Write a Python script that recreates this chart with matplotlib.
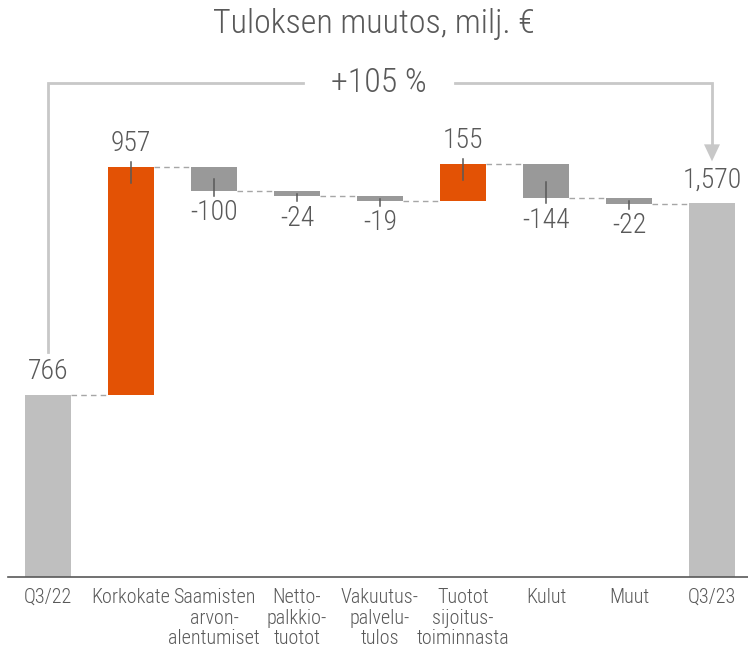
import matplotlib.pyplot as plt
import numpy as np
from matplotlib.patches import Polygon

plt.rcParams["font.family"] = ["Roboto Condensed", "Liberation Sans", "DejaVu Sans"]
plt.rcParams["font.weight"] = "light"

# data
categories = ["Q3/22", "Korkokate", "Saamisten\narvon-\nalentumiset", "Netto-\npalkkio-\ntuotot",
              "Vakuutus-\npalvelu-\ntulos", "Tuotot\nsijoitus-\ntoiminnasta", "Kulut", "Muut", "Q3/23"]
start_value = 766
deltas = [957, -100, -24, -19, 155, -144, -22]
end_value = 1570
delta_labels = ["957", "-100", "-24", "-19", "155", "-144", "-22"]
total_labels = ["766", "1,570"]
change_label = "+105 %"
title = "Tuloksen muutos, milj. €"

TEXT = "#595959"
TOTAL_C = "#bfbfbf"
POS_C = "#e35205"
NEG_C = "#999999"
BRACKET_C = "#c8c8c8"

W, H = 748, 651
fig = plt.figure(figsize=(W / 100, H / 100), dpi=100)
base_px = 577  # baseline from top
px_per_unit = 0.238
ax = fig.add_axes([8 / W, (H - base_px) / H, (W - 8) / W, base_px / H])
PX = 1 / px_per_unit  # data units per pixel
ax.set_ylim(0, base_px * PX)
ax.set_xlim(-40 / 83, -40 / 83 + (W - 8) / 83)
bw = 0.55

# running totals
levels = np.concatenate([[start_value], start_value + np.cumsum(deltas)])
n = len(categories)

# total bars
ax.bar([0, n - 1], [start_value, end_value], width=bw, color=TOTAL_C, zorder=2)
for x, v, lab in zip([0, n - 1], [start_value, end_value], total_labels):
    ax.annotate(lab, (x, v), xytext=(0, 7), textcoords="offset points",
                ha="center", va="bottom", fontsize=20, color=TEXT)

# delta bars
for i, d in enumerate(deltas):
    x = i + 1
    lo = min(levels[i], levels[i + 1])
    color = POS_C if d > 0 else NEG_C
    ax.bar(x, abs(d), bottom=lo, width=bw, color=color, zorder=2)
    outer = levels[i + 1]
    sign = 1 if d > 0 else -1
    inner = outer - sign * min(abs(d) / 2, 16 * PX)
    ax.plot([x, x], [inner, outer + sign * 5 * PX], color=TEXT, lw=1.1, zorder=3)
    if d > 0:
        ax.annotate(delta_labels[i], (x, outer), xytext=(0, 7), textcoords="offset points",
                    ha="center", va="bottom", fontsize=20, color=TEXT)
    else:
        ax.annotate(delta_labels[i], (x, outer), xytext=(0, -6), textcoords="offset points",
                    ha="center", va="top", fontsize=20, color=TEXT)

# dashed connectors
for i in range(n - 1):
    ax.plot([i + bw / 2, i + 1 - bw / 2], [levels[i]] * 2,
            color="#a6a6a6", lw=1, ls=(0, (4, 3)), zorder=1)

# bracket with change label
y_br = (base_px - 83) * PX
left_bottom = start_value + 43 * PX
arrow_tip = end_value + 42 * PX
gap_l, gap_r = (303 - 48) / 83, (455 - 48) / 83
ax.plot([0, 0, gap_l], [left_bottom, y_br, y_br], color=BRACKET_C, lw=2, solid_joinstyle="miter")
ax.plot([gap_r, n - 1, n - 1], [y_br, y_br, arrow_tip + 15 * PX], color=BRACKET_C, lw=2,
        solid_joinstyle="miter")
hw = 8 / 83
ax.add_patch(Polygon([[n - 1 - hw, arrow_tip + 17 * PX], [n - 1 + hw, arrow_tip + 17 * PX],
                      [n - 1, arrow_tip]], closed=True, color=BRACKET_C, lw=0))
ax.text((gap_l + gap_r) / 2, y_br, change_label, ha="center", va="center",
        fontsize=24.5, color=TEXT)

fig.text(0.5, 1 - 24 / H, title, ha="center", va="center", fontsize=24.5, color=TEXT)

# axes styling
for s in ["top", "right", "left"]:
    ax.spines[s].set_visible(False)
ax.spines["bottom"].set_color(TEXT)
ax.spines["bottom"].set_linewidth(1.2)
ax.set_yticks([])
ax.set_xticks(range(n))
ax.set_xticklabels(categories, fontsize=14.5, color=TEXT, linespacing=1.1)
ax.tick_params(axis="x", length=0, pad=8)

fig.savefig("out.png", dpi=100)
